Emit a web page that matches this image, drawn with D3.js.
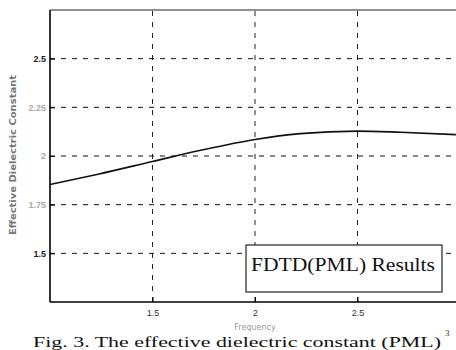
<!DOCTYPE html>
<html lang="en">
<head>
    <meta charset="UTF-8">
    <script src="https://d3js.org/d3.v7.min.js"></script>
    <title>Effective dielectric constant</title>
    <style>
        body { margin: 0; background: #fff; }
    </style>
</head>
<body>
<div id="draw_here"></div>

<script type="text/javascript">

    var width = 456;
    var height = 350;

    // frequency and effective dielectric constant
    var freq = [1.0, 1.24, 1.5, 1.73, 2.0, 2.22, 2.5, 2.71, 2.98];
    var epsEff = [1.854, 1.908, 1.972, 2.028, 2.085, 2.115, 2.128, 2.122, 2.11];

    var xTicks = [1.5, 2, 2.5];
    var yTicks = [2.5, 2.25, 2, 1.75, 1.5];
    var legendLabel = "FDTD(PML) Results";

    var margin = {top: 10, right: -4, bottom: 48, left: 50};

    var x = d3.scaleLinear()
        .domain([1, 3])
        .range([margin.left, width - margin.right]);

    var y = d3.scaleLinear()
        .domain([1.25, 2.75])
        .range([height - margin.bottom, margin.top]);

    var svg = d3.select("#draw_here")
        .append("svg")
        .attr("width", width)
        .attr("height", height)
        .style("font-family", "'DejaVu Sans', sans-serif");

    // dashed grid
    svg.append("g")
        .selectAll("line")
        .data(yTicks)
        .join("line")
        .attr("x1", x(1)).attr("x2", x(3))
        .attr("y1", d => y(d)).attr("y2", d => y(d))
        .attr("stroke", "#111")
        .attr("stroke-width", 1)
        .attr("stroke-dasharray", "5,6");

    svg.append("g")
        .selectAll("line")
        .data(xTicks)
        .join("line")
        .attr("x1", d => x(d)).attr("x2", d => x(d))
        .attr("y1", y(1.25)).attr("y2", y(2.75))
        .attr("stroke", "#222")
        .attr("stroke-width", 1)
        .attr("stroke-dasharray", "5,6");

    // axes, MATLAB style inward ticks
    var xAxis = g => g
        .attr("transform", `translate(0,${y(1.25)})`)
        .call(d3.axisBottom(x).tickValues(xTicks).tickSize(-5).tickPadding(8).tickFormat(d3.format("")))
        .call(g => g.select(".domain").attr("stroke-width", 1.6).attr("d", `M${x(1)},0H${x(3)}`))
        .call(g => g.selectAll("text").attr("font-size", 9).attr("fill", "#333"));

    var yAxis = g => g
        .attr("transform", `translate(${x(1)},0)`)
        .call(d3.axisLeft(y).tickValues(yTicks).tickSize(-5).tickPadding(4).tickFormat(d3.format("")))
        .call(g => g.select(".domain").attr("stroke-width", 1.6).attr("d", `M0,${y(2.75)}V${y(1.25)}`))
        .call(g => g.selectAll("text").attr("font-size", 9).attr("font-weight", "bold")
            .attr("fill", d => (d === 2.5 || d === 1.5) ? "#222" : "#aaa"));

    svg.append("g").call(xAxis);
    svg.append("g").call(yAxis);

    // top frame
    svg.append("line")
        .attr("x1", x(1)).attr("x2", x(3))
        .attr("y1", y(2.75)).attr("y2", y(2.75))
        .attr("stroke", "#222")
        .attr("stroke-width", 1.2);

    // curve
    var line = d3.line()
        .x(d => x(d[0]))
        .y(d => y(d[1]))
        .curve(d3.curveMonotoneX);

    svg.append("path")
        .datum(d3.zip(freq, epsEff))
        .attr("fill", "none")
        .attr("stroke", "#111")
        .attr("stroke-width", 1.6)
        .attr("d", line);

    // axis titles, faint in the scan
    svg.append("text")
        .attr("x", x(2))
        .attr("y", 330)
        .attr("text-anchor", "middle")
        .attr("font-size", 8)
        .attr("fill", "#999")
        .text("Frequency");

    svg.append("text")
        .attr("transform", `translate(16,155) rotate(-90)`)
        .attr("text-anchor", "middle")
        .attr("font-size", 9)
        .attr("font-weight", "bold")
        .attr("fill", "#777")
        .attr("textLength", 160)
        .attr("lengthAdjust", "spacingAndGlyphs")
        .text("Effective Dielectric Constant");

    // legend box
    var legend = svg.append("g");
    legend.append("rect")
        .attr("x", 246).attr("y", 245)
        .attr("width", 196).attr("height", 47)
        .attr("fill", "#fff")
        .attr("stroke", "#222")
        .attr("stroke-width", 1.2);
    legend.append("text")
        .attr("x", 251).attr("y", 271)
        .attr("font-family", "'Liberation Serif', serif")
        .attr("font-size", 18)
        .attr("fill", "#111")
        .attr("textLength", 184)
        .attr("lengthAdjust", "spacingAndGlyphs")
        .text(legendLabel);

    // figure caption at the bottom edge
    svg.append("text")
        .attr("x", 33).attr("y", 347)
        .attr("font-family", "'Liberation Serif', serif")
        .attr("font-size", 15)
        .attr("fill", "#111")
        .attr("textLength", 408)
        .attr("lengthAdjust", "spacingAndGlyphs")
        .text("Fig. 3. The effective dielectric constant (PML)");

    svg.append("text")
        .attr("x", 445).attr("y", 336)
        .attr("font-family", "'Liberation Serif', serif")
        .attr("font-size", 9)
        .attr("fill", "#333")
        .text("3");

</script>

</body>
</html>
